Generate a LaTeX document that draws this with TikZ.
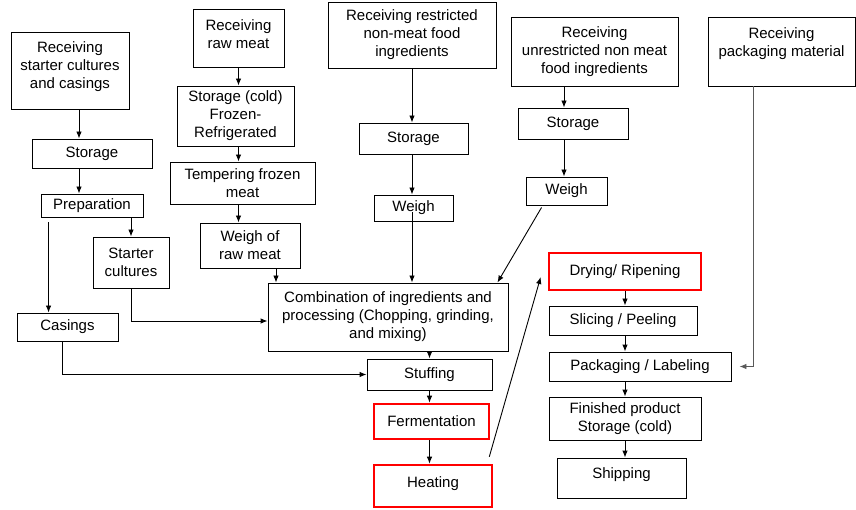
\documentclass[tikz,border=0pt]{standalone}
\usepackage{fontspec}
\setmainfont{Liberation Sans}
\usetikzlibrary{arrows.meta}

\tikzset{
  box/.style={draw, line width=0.9pt, align=center, inner sep=0pt,
    font=\fontsize{15}{18}\selectfont},
  redbox/.style={box, draw=red, line width=2.6pt},
  arr/.style={line width=0.9pt, -{Latex[length=7pt,width=5.5pt]}},
  grayarr/.style={arr, draw=black!65}
}

\begin{document}
\begin{tikzpicture}[x=1pt, y=-1pt]

  \useasboundingbox (0,0) rectangle (856,510);

  % starter cultures and casings
  \node[box, minimum width=118pt, minimum height=77pt, text depth=10pt]
    (recvStarter) at (70,70.5) {Receiving\\starter cultures\\and casings};
  \node[box, minimum width=120pt, minimum height=29pt]
    (storeStarter) at (92,153.5) {Storage};
  \node[box, minimum width=102pt, minimum height=23pt]
    (prep) at (92,205.5) {Preparation};
  \node[box, minimum width=76pt, minimum height=51pt]
    (cultures) at (131,262.5) {Starter\\cultures};
  \node[box, minimum width=101pt, minimum height=28pt]
    (casings) at (67.5,327) {Casings};

  % raw meat
  \node[box, minimum width=91pt, minimum height=58pt, text depth=7pt]
    (recvMeat) at (238.5,38) {Receiving\\raw meat};
  \node[box, minimum width=117pt, minimum height=60pt]
    (storeMeat) at (235.5,116) {Storage (cold)\\Frozen-\\Refrigerated};
  \node[box, minimum width=145pt, minimum height=42pt]
    (temper) at (242.5,183) {Tempering frozen\\meat};
  \node[box, minimum width=100pt, minimum height=45pt]
    (weighMeat) at (250,245.5) {Weigh of\\raw meat};

  % restricted ingredients
  \node[box, minimum width=168pt, minimum height=66pt]
    (recvRestr) at (412,35) {Receiving restricted\\non-meat food\\ingredients};
  \node[box, minimum width=109pt, minimum height=31pt]
    (storeRestr) at (413.5,138.5) {Storage};
  \node[box, minimum width=79pt, minimum height=26pt]
    (weighRestr) at (413.5,208) {Weigh};

  % unrestricted ingredients
  \node[box, minimum width=167pt, minimum height=69pt]
    (recvUnres) at (594.5,51.5) {Receiving\\unrestricted non meat\\food ingredients};
  \node[box, minimum width=110pt, minimum height=31pt]
    (storeUnres) at (573,123.5) {Storage};
  \node[box, minimum width=81pt, minimum height=28pt]
    (weighUnres) at (566.5,191) {Weigh};

  % packaging material
  \node[box, minimum width=147pt, minimum height=69pt, text depth=18pt]
    (recvPack) at (781.5,51.5) {Receiving\\packaging material};

  % processing
  \node[box, minimum width=240pt, minimum height=68pt]
    (combine) at (388,317) {Combination of ingredients and\\processing (Chopping, grinding,\\and mixing)};
  \node[box, minimum width=125pt, minimum height=31pt]
    (stuffing) at (429.5,374.5) {Stuffing};
  \node[redbox, minimum width=115pt, minimum height=35pt]
    (ferment) at (431.5,421.5) {Fermentation};
  \node[redbox, minimum width=118pt, minimum height=42pt, text depth=8pt]
    (heating) at (433,486) {Heating};

  % finishing
  \node[redbox, minimum width=152pt, minimum height=37pt]
    (drying) at (625,271.5) {Drying/ Ripening};
  \node[box, minimum width=148pt, minimum height=29pt]
    (slicing) at (623,320.5) {Slicing / Peeling};
  \node[box, minimum width=182pt, minimum height=29pt]
    (packaging) at (640,366.5) {Packaging / Labeling};
  \node[box, minimum width=152pt, minimum height=43pt]
    (finished) at (625,418.5) {Finished product\\Storage (cold)};
  \node[box, minimum width=129pt, minimum height=40pt, text depth=10pt]
    (shipping) at (621.5,478) {Shipping};

  % arrows, starter cultures and casings
  \draw[arr] ([xshift=9pt]recvStarter.south) -- ([xshift=9pt]recvStarter.south |- storeStarter.north);
  \draw[arr] ([xshift=-13pt]storeStarter.south) -- ([xshift=-13pt]storeStarter.south |- prep.north);
  \draw[arr] ([xshift=39pt]prep.south) -- (cultures.north);
  \draw[arr] ([xshift=8pt,yshift=-5pt]prep.south west) -- ([xshift=32pt]casings.north west);
  \draw[arr] (cultures.south) |- ([yshift=-4pt]combine.west);
  \draw[arr] ([xshift=-5pt]casings.south) |- (stuffing.west);

  % arrows, raw meat
  \draw[arr] (recvMeat.south) -- (recvMeat.south |- storeMeat.north);
  \draw[arr] (storeMeat.south -| recvMeat.south) -- (recvMeat.south |- temper.north);
  \draw[arr] (temper.south -| recvMeat.south) -- (recvMeat.south |- weighMeat.north);
  \draw[arr] ([xshift=26pt]weighMeat.south) -- ([xshift=26pt]weighMeat.south |- combine.north);

  % arrows, ingredients
  \draw[arr] (recvRestr.south) -- (recvRestr.south |- storeRestr.north);
  \draw[arr] (storeRestr.south -| recvRestr.south) -- (recvRestr.south |- weighRestr.north);
  \draw[arr] ([yshift=9pt]weighRestr.south -| recvRestr.south) -- (recvRestr.south |- combine.north);
  \draw[arr] ([xshift=-9pt]storeUnres.north |- recvUnres.south) -- ([xshift=-9pt]storeUnres.north);
  \draw[arr] ([xshift=-9pt]storeUnres.south) -- ([xshift=-9pt]storeUnres.south |- weighUnres.north);
  \draw[arr] ([xshift=16pt,yshift=-2pt]weighUnres.south west) -- ([xshift=-11pt]combine.north east);

  % arrows, processing
  \draw[arr] (combine.south -| stuffing.north) -- (stuffing.north);
  \draw[arr] (stuffing.south) -- (stuffing.south |- ferment.north);
  \draw[arr] (ferment.south -| stuffing.south) -- (stuffing.south |- heating.north);
  \draw[arr] ([xshift=-4pt,yshift=7pt]heating.north east) -- ([xshift=-7pt,yshift=-5.5pt]drying.west);

  % arrows, finishing
  \draw[arr] (drying.south) -- (drying.south |- slicing.north);
  \draw[arr] (slicing.south -| drying.south) -- (drying.south |- packaging.north);
  \draw[arr] (packaging.south -| drying.south) -- (drying.south |- finished.north);
  \draw[arr] (finished.south -| drying.south) -- (drying.south |- shipping.north);
  \draw[grayarr] ([xshift=46pt]recvPack.south west) |- ([xshift=8pt]packaging.east);

\end{tikzpicture}
\end{document}
